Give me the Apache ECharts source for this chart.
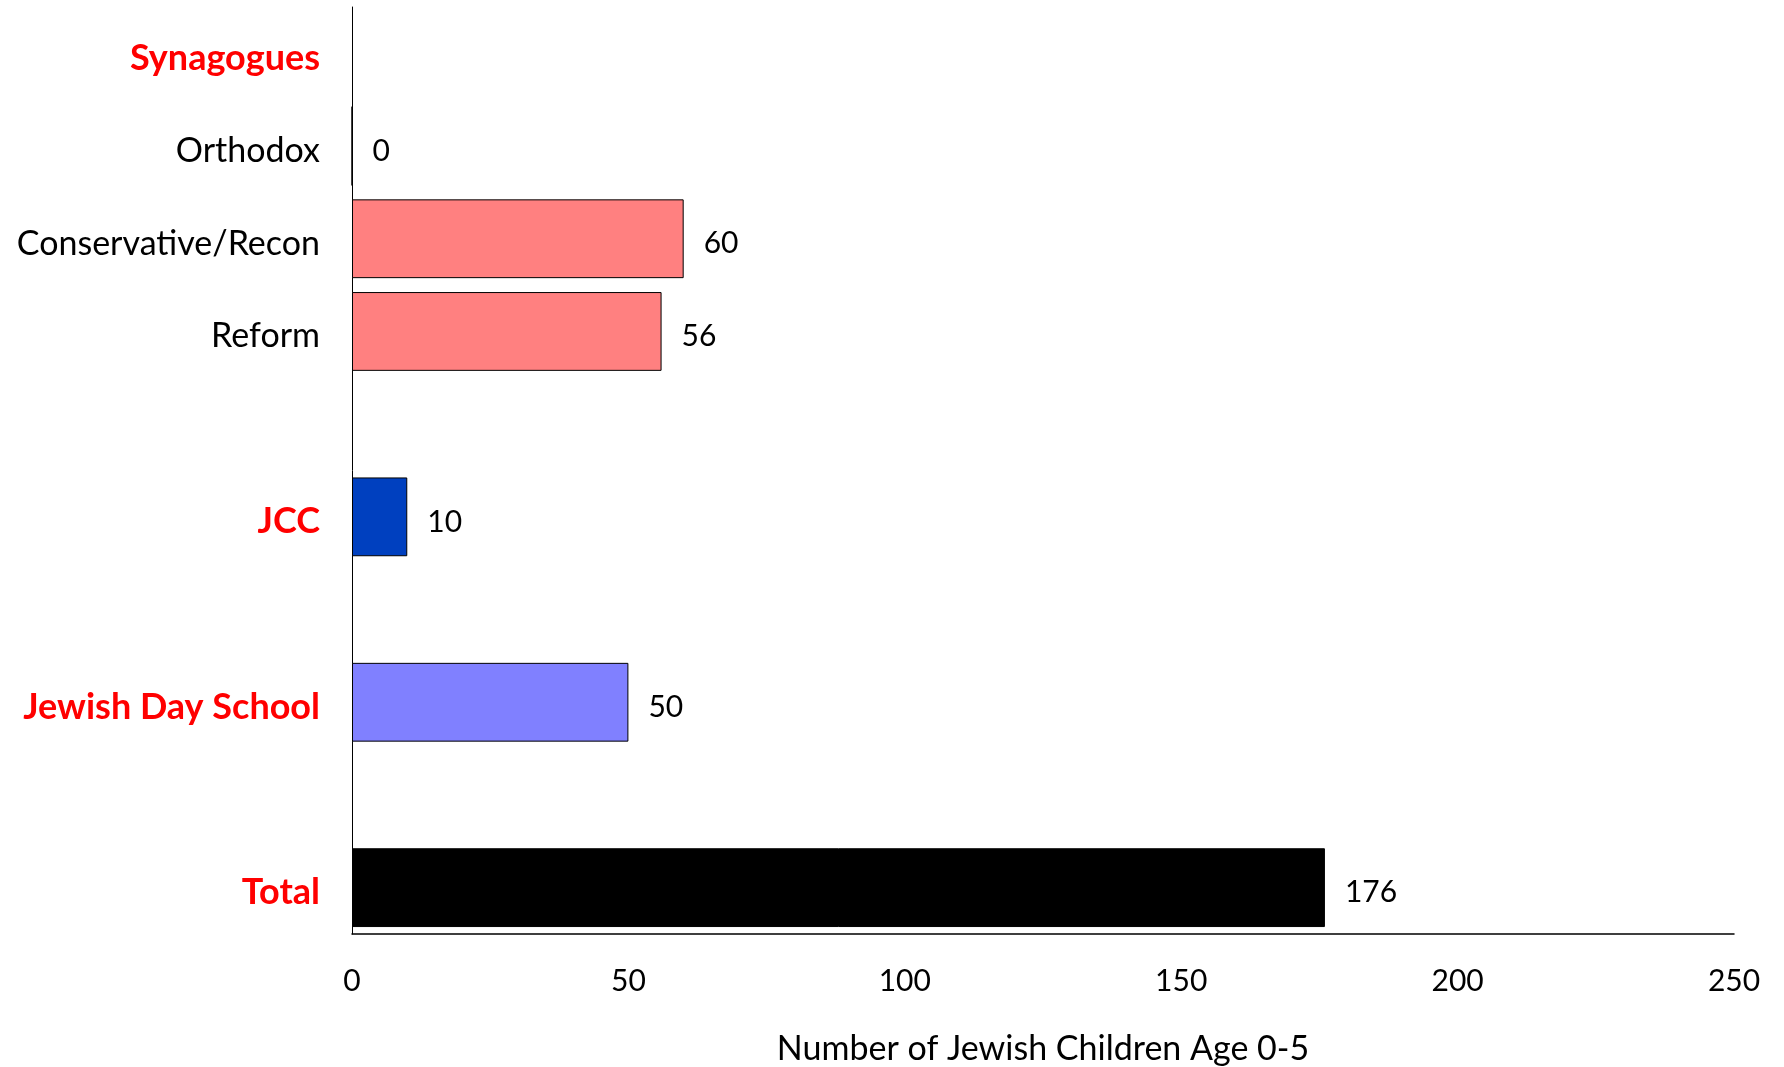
<!DOCTYPE html>
<html>
<head>
<meta charset="utf-8">
<script src="https://cdn.jsdelivr.net/npm/echarts@6/dist/echarts.min.js"></script>
<style>html,body{margin:0;padding:0;background:#fff}#c{width:1784px;height:1067px}</style>
</head>
<body>
<div id="c"></div>
<script>
// Data (top to bottom); empty strings are spacer rows
const categories = ['Synagogues', 'Orthodox', 'Conservative/Recon', 'Reform', '', 'JCC', '', 'Jewish Day School', '', 'Total'];
const values = [null, 0, 60, 56, null, 10, null, 50, null, 176];
const headerRows = ['Synagogues', 'JCC', 'Jewish Day School', 'Total'];
const barColors = [null, '#FF8080', '#FF8080', '#FF8080', null, '#0040BF', null, '#8080FF', null, '#000000'];
const xTicks = [0, 50, 100, 150, 200, 250];
const xName = 'Number of Jewish Children Age 0-5';

const FONT = 'Lato';
const chart = echarts.init(document.getElementById('c'), null, {renderer: 'canvas'});

const yData = categories.map(c => headerRows.includes(c)
  ? {value: c, textStyle: {color: '#FF0000', fontWeight: 'bold', fontSize: 36,
      fontFamily: FONT, verticalAlign: 'top', lineHeight: 10}}
  : {value: c});

const seriesData = values.map((v, i) => v === null ? null : {
  value: v,
  itemStyle: {color: barColors[i] || '#000'}
});

chart.setOption({
  animation: false,
  backgroundColor: '#fff',
  grid: {left: 352, right: 50, top: 7, bottom: 133, containLabel: false, outerBoundsMode: 'none'},
  xAxis: {
    type: 'value',
    min: xTicks[0], max: xTicks[xTicks.length - 1], interval: 50,
    splitLine: {show: false},
    axisTick: {show: false},
    axisLine: {show: true, lineStyle: {color: '#000', width: 1.5}},
    axisLabel: {fontFamily: FONT, fontSize: 30, color: '#000', margin: 32},
    name: xName,
    nameLocation: 'middle',
    nameGap: 98,
    nameTextStyle: {fontFamily: FONT, fontSize: 34, color: '#000'}
  },
  yAxis: {
    type: 'category',
    inverse: true,
    data: yData,
    axisTick: {show: false},
    axisLine: {show: true, lineStyle: {color: '#000', width: 1}},
    axisLabel: {fontFamily: FONT, fontSize: 34, color: '#000', margin: 32,
      verticalAlign: 'top', lineHeight: 10}
  },
  series: [{
    type: 'bar',
    data: seriesData,
    barCategoryGap: '15%',
    itemStyle: {borderColor: '#000', borderWidth: 1},
    label: {
      show: true, position: 'right', distance: 20, offset: [0, 5],
      fontFamily: FONT, fontSize: 30, color: '#000'
    }
  }]
});
</script>
</body>
</html>
